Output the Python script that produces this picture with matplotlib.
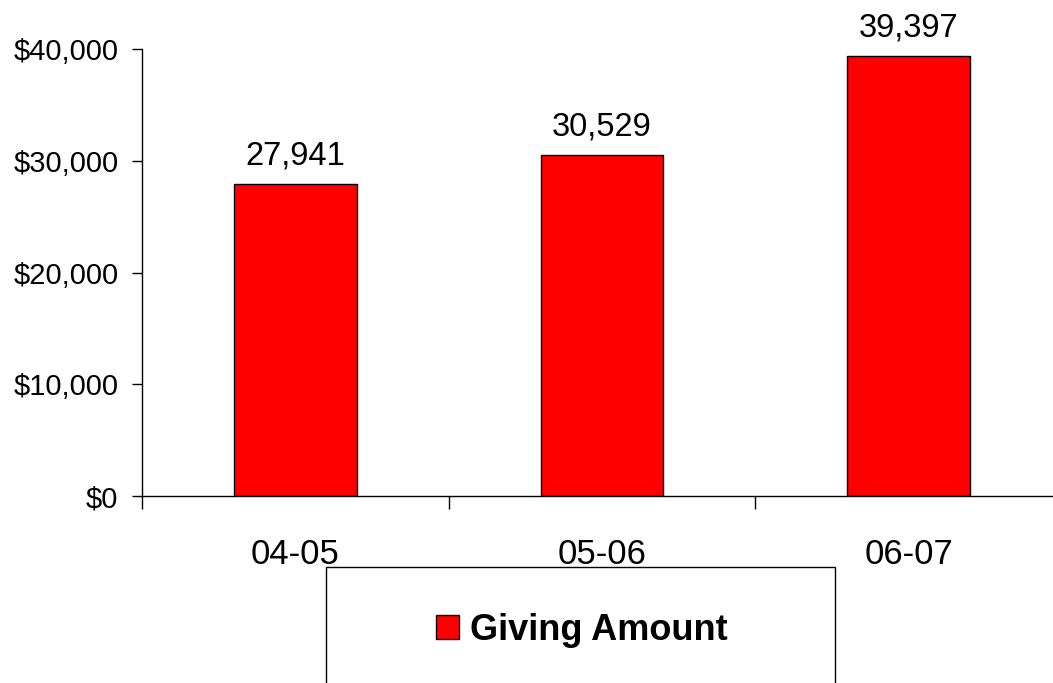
import matplotlib.pyplot as plt
from matplotlib.patches import Rectangle
from matplotlib.ticker import FuncFormatter

plt.rcParams['font.family'] = ['Liberation Sans', 'DejaVu Sans']

years = ["04-05", "05-06", "06-07"]
giving = [27941, 30529, 39397]
y_ticks = [0, 10000, 20000, 30000, 40000]

fig = plt.figure(figsize=(10.53, 6.83), dpi=100)
ax = fig.add_axes([142 / 1053, (683 - 496) / 683, 920 / 1053, 447 / 683])

x = range(len(years))
bars = ax.bar(x, giving, width=0.4, color="#ff0000", edgecolor="black",
              linewidth=1.0, label="Giving Amount")
for xi, v in zip(x, giving):
    ax.annotate("{:,}".format(v), (xi, v), xytext=(0, 9), textcoords="offset points",
                ha="center", va="bottom", fontsize=23.5)

ax.set_xlim(-0.5, 2.5)
ax.set_ylim(0, 40000)
ax.set_yticks(y_ticks)
ax.yaxis.set_major_formatter(FuncFormatter(lambda v, p: "${:,.0f}".format(v)))
ax.tick_params(axis='y', labelsize=21, length=7, width=1, pad=10, direction='out')

ax.set_xticks(list(x))
ax.set_xticklabels(years)
ax.set_xticks([-0.5, 0.5, 1.5, 2.5], minor=True)
ax.tick_params(axis='x', which='major', length=0, labelsize=25, pad=30.5)
ax.tick_params(axis='x', which='minor', length=9, width=1, direction='out')

for s in ['top', 'right']:
    ax.spines[s].set_visible(False)
for s in ['left', 'bottom']:
    ax.spines[s].set_linewidth(1)

# legend frame, runs off the bottom edge
fig.patches.append(Rectangle((326 / 1053, -0.05), 509 / 1053, (683 - 567) / 683 + 0.05,
                             transform=fig.transFigure, fill=False,
                             edgecolor="black", linewidth=1))
fig.legend(handles=[bars], labels=["Giving Amount"], loc="center",
           bbox_to_anchor=(582 / 1053, 1 - 630 / 683), frameon=False,
           prop={'weight': 'bold', 'size': 26}, handlelength=0.65,
           handleheight=0.65, handletextpad=0.3)

plt.savefig("out.png", dpi=100)
